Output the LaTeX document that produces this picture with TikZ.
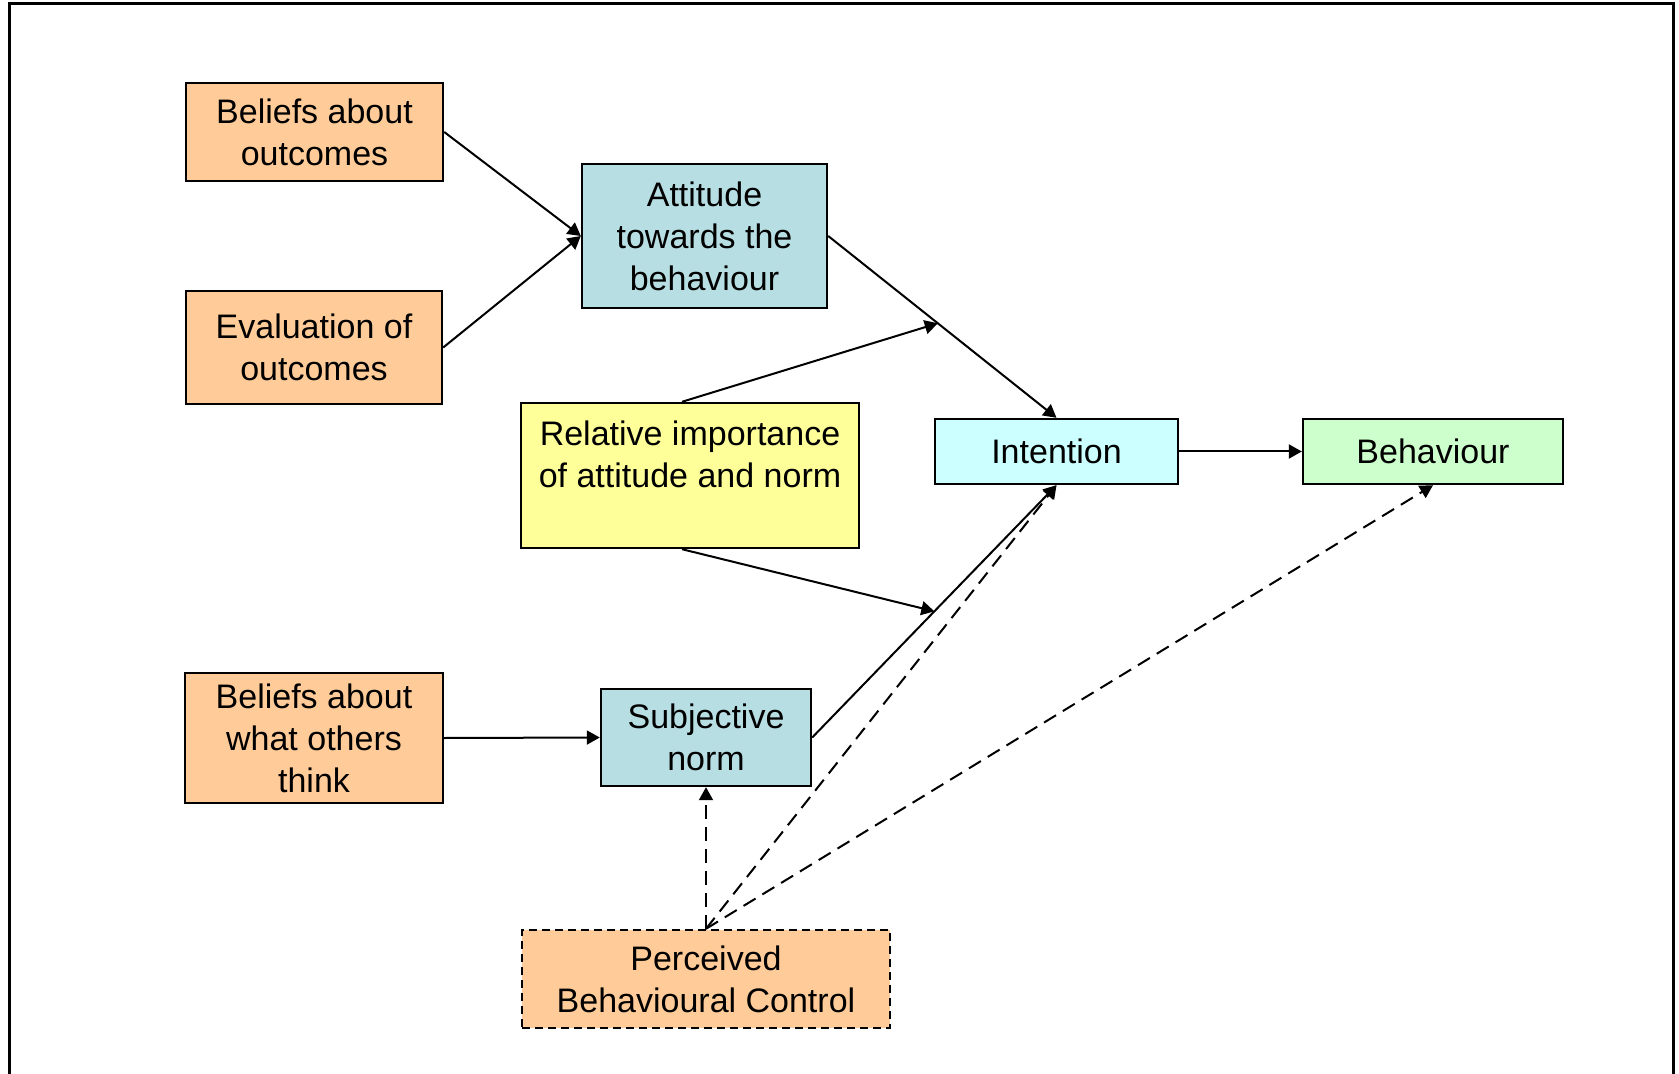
\documentclass[tikz,border=0pt]{standalone}
\usepackage{fontspec}
\setmainfont{Liberation Sans}
\usetikzlibrary{arrows.meta}
\usetikzlibrary{calc}
\definecolor{tpbOrange}{RGB}{255, 204, 153}
\definecolor{tpbTeal}{RGB}{183, 222, 226}
\definecolor{tpbCyan}{RGB}{204, 255, 255}
\definecolor{tpbGreen}{RGB}{204, 255, 204}
\definecolor{tpbYellow}{RGB}{255, 255, 153}
\tikzset{
    box/.style={draw, line width=1.2pt, inner sep=0pt, align=center,
        font=\fontsize{17}{21}\selectfont},
    link/.style={line width=1pt, -{Triangle[length=6.5pt, width=7pt]}},
    dashlink/.style={link, dash pattern=on 7pt off 4pt}
}

\begin{document}
\begin{tikzpicture}[x=0.5pt, y=-0.5pt]
        \useasboundingbox (0,0) rectangle (1679,1074);

        % Outer frame, open at the bottom
        \draw[line width=1.5pt] (9,1074) -- (9,4) -- (1673,4) -- (1673,1074);

        % Belief boxes on the left
        \node[box, fill=tpbOrange, minimum width=128.5pt, minimum height=49pt] (bOut) at (314.5,132) {Beliefs about\\outcomes};
        \node[box, fill=tpbOrange, minimum width=128pt, minimum height=56.5pt] (evOut) at (314,347.5) {Evaluation of\\outcomes};
        \node[box, fill=tpbOrange, minimum width=129pt, minimum height=65pt] (bOth) at (314,738) {Beliefs about\\what others\\think};

        % Middle column
        \node[box, fill=tpbTeal, minimum width=122.5pt, minimum height=72pt] (att) at (704.5,236) {Attitude\\towards the\\behaviour};
        \node[box, fill=tpbYellow, minimum width=169pt, minimum height=72.5pt] (rel) at (690,475.5) {Relative importance\\of attitude and norm\\\mbox{}};
        \node[box, fill=tpbTeal, minimum width=105pt, minimum height=48.5pt] (sn) at (706,737.5) {Subjective\\norm};
        \node[box, fill=tpbOrange, dash pattern=on 4pt off 2.5pt, minimum width=184pt, minimum height=49pt] (pbc) at (706,979) {Perceived\\Behavioural Control};

        % Right column
        \node[box, fill=tpbCyan, minimum width=121.5pt, minimum height=32.5pt] (intn) at (1056.5,451.5) {Intention};
        \node[box, fill=tpbGreen, minimum width=130pt, minimum height=32.5pt] (beh) at (1433,451.5) {Behaviour};

        % Points where the weighting arrows meet
        \coordinate (attMid) at ($(att.east)!0.48!(intn.north)$);
        \coordinate (snMid) at ($(sn.east)!0.5!(intn.south)$);

        % Solid links
        \draw[link] (bOut.east) -- (att.west);
        \draw[link] (evOut.east) -- (att.west);
        \draw[link] (bOth.east) -- (sn.west);
        \draw[link] (att.east) -- (intn.north);
        \draw[link] (sn.east) -- (intn.south);
        \draw[link] ([xshift=-4pt]rel.north) -- (attMid);
        \draw[link] ([xshift=-4pt]rel.south) -- (snMid);
        \draw[link] (intn.east) -- (beh.west);

        % Dashed links from perceived control
        \draw[dashlink] (pbc.north) -- (sn.south);
        \draw[dashlink] (pbc.north) -- (intn.south);
        \draw[dashlink] (pbc.north) -- (beh.south);
    \end{tikzpicture}
\end{document}
